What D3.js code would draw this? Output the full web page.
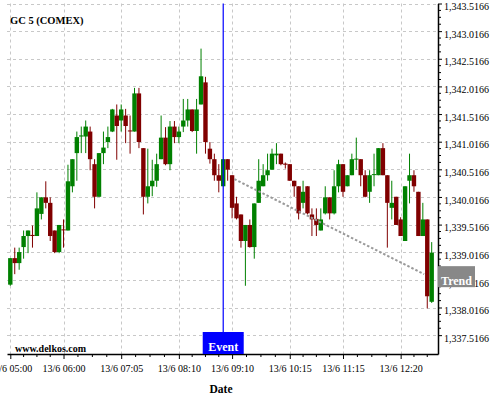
<!DOCTYPE html>
<html><head><meta charset="utf-8">
<script src="https://cdn.jsdelivr.net/npm/d3@7"></script>
<style>
html,body{margin:0;padding:0;background:#fff;}
text{font-family:"Liberation Serif","Times New Roman",serif;}
</style></head>
<body>
<script>
// ---- data ----
const title = "GC 5 (COMEX)";
const openV = [1338.43,1338.91,1338.82,1339.11,1339.31,1339.33,1339.31,1339.71,1340.01,1339.91,
1339.41,1339.02,1339.43,1339.41,1340.21,1340.81,1341.11,1341.11,1341.20,1340.61,
1340.02,1340.81,1341.01,1341.20,1341.49,1341.40,1341.49,1341.22,1341.20,1341.89,
1340.90,1340.02,1340.21,1340.31,1340.70,1341.09,1340.61,1341.29,1341.10,1341.29,
1341.40,1341.60,1341.21,1341.69,1342.09,1340.89,1340.70,1340.41,1340.21,1340.70,
1340.41,1339.90,1339.70,1339.22,1339.51,1339.11,1339.91,1340.21,1340.41,1340.51,
1340.77,1340.80,1340.62,1340.61,1340.31,1340.21,1339.91,1340.21,1339.70,1339.62,
1339.41,1339.72,1340.01,1339.72,1340.21,1340.61,1340.21,1340.41,1340.70,1340.70,
1340.41,1340.11,1340.42,1340.41,1340.90,1340.41,1339.82,1340.02,1339.61,1339.22,
1340.31,1340.41,1340.11,1339.31,1339.61,1338.12];
const highV = [1338.91,1339.10,1339.10,1339.41,1339.41,1339.50,1340.10,1340.01,1340.30,1340.01,
1339.41,1339.51,1339.61,1340.60,1340.70,1341.20,1341.29,1341.40,1341.29,1340.70,
1340.81,1341.20,1341.29,1341.61,1341.69,1341.69,1341.61,1341.49,1341.99,1341.99,
1340.90,1340.89,1340.69,1340.80,1341.49,1341.28,1341.39,1341.39,1341.29,1341.79,
1341.79,1341.60,1341.79,1342.70,1342.19,1341.01,1340.80,1340.61,1340.70,1340.70,
1340.41,1340.02,1339.70,1339.51,1339.61,1339.90,1340.70,1340.61,1340.80,1340.89,
1340.99,1340.80,1340.64,1340.61,1340.31,1340.21,1340.31,1340.21,1339.81,1339.81,
1339.81,1340.21,1340.01,1340.50,1340.69,1340.61,1340.41,1340.80,1341.09,1340.70,
1340.50,1340.50,1340.80,1340.90,1340.99,1340.41,1340.31,1340.02,1339.65,1340.21,
1340.80,1340.50,1340.11,1339.91,1339.61,1339.20];
const lowV = [1338.41,1338.62,1338.70,1338.90,1339.00,1339.10,1339.31,1339.61,1339.81,1339.22,
1339.00,1339.00,1339.10,1339.41,1340.10,1340.31,1340.81,1340.81,1340.50,1339.81,
1340.02,1340.61,1340.90,1341.19,1340.69,1341.20,1340.99,1340.80,1341.20,1340.90,
1339.70,1339.90,1340.03,1340.20,1340.70,1340.59,1340.50,1340.99,1340.99,1341.19,
1341.29,1341.19,1340.80,1341.69,1340.80,1340.62,1340.31,1340.10,1340.21,1340.31,
1339.63,1339.61,1339.10,1338.41,1339.10,1338.90,1339.91,1340.21,1340.31,1340.51,
1340.61,1340.59,1340.53,1340.31,1340.02,1339.61,1339.81,1339.70,1339.31,1339.31,
1339.41,1339.70,1339.61,1339.70,1340.10,1340.02,1340.21,1340.41,1340.51,1340.21,
1340.01,1339.91,1340.21,1340.41,1340.41,1339.10,1339.61,1339.51,1339.31,1339.22,
1339.90,1340.11,1339.31,1339.31,1338.00,1338.10];
const closeV = [1338.91,1338.82,1339.02,1339.31,1339.41,1339.31,1339.81,1340.01,1339.91,1339.31,
1339.02,1339.51,1339.42,1340.30,1340.70,1341.10,1341.13,1341.29,1340.70,1340.02,
1340.81,1340.91,1341.10,1341.60,1341.30,1341.60,1341.30,1341.21,1341.89,1341.01,
1340.02,1340.21,1340.31,1340.61,1341.09,1340.61,1341.29,1341.10,1341.20,1341.40,
1341.60,1341.21,1341.60,1342.20,1341.01,1340.70,1340.41,1340.31,1340.70,1340.51,
1339.82,1339.63,1339.22,1339.51,1339.11,1339.90,1340.31,1340.41,1340.50,1340.80,
1340.80,1340.61,1340.60,1340.31,1340.21,1339.72,1340.11,1339.72,1339.61,1339.51,
1339.61,1340.01,1339.72,1340.21,1340.61,1340.11,1340.41,1340.70,1340.71,1340.41,
1340.02,1340.41,1340.43,1340.90,1340.41,1339.91,1339.91,1339.51,1339.31,1340.21,
1340.41,1340.21,1339.31,1339.61,1338.22,1339.01];
const xTickIdx = [0,12,25,38,50,63,75,88];
const xTickLabels = ["13/6 05:00","13/6 06:00","13/6 07:05","13/6 08:10","13/6 09:10","13/6 10:15","13/6 11:15","13/6 12:20"];
const yTickValues = [1337.5166,1338.0166,1338.5166,1339.0166,1339.5166,1340.0166,1340.5166,1341.0166,1341.5166,1342.0166,1342.5166,1343.0166,1343.5166];
const eventIdx = 48;
const eventLabel = "Event";
const trendIdx = [50.5, 93.3];
const trendVal = [1340.34, 1338.62];
const trendLabel = "Trend";
const xTitle = "Date";
const watermark = "www.delkos.com";

// ---- layout ----
const W = 500, H = 400;
const L = 7, R = 438, T = 3.5, B = 354;
const svg = d3.select("body").append("svg").attr("width", W).attr("height", H);
const x = d3.scaleLinear().domain([-0.744, 96.42]).range([L, R]);
const y = d3.scaleLinear().domain([1337.1756, 1343.5166]).range([B, T]);
const green = "#008000", red = "#800000";

// grid
const grid = svg.append("g").attr("stroke", "#c8c8c8").attr("stroke-width", 1).attr("stroke-dasharray", "3,3");
grid.selectAll("line.h").data(yTickValues).join("line").attr("class","h")
  .attr("x1", L).attr("x2", R).attr("y1", d => Math.round(y(d)) + 0.5).attr("y2", d => Math.round(y(d)) + 0.5);
grid.selectAll("line.v").data(xTickIdx).join("line").attr("class","v")
  .attr("y1", T).attr("y2", B).attr("x1", d => Math.round(x(d)) + 0.5).attr("x2", d => Math.round(x(d)) + 0.5);

// candles
const idx = d3.range(openV.length);
const bw = 4.4;
const cg = svg.append("g");
cg.selectAll("line").data(idx).join("line")
  .attr("x1", i => x(i)).attr("x2", i => x(i))
  .attr("y1", i => y(Math.max(highV[i], openV[i], closeV[i])))
  .attr("y2", i => y(Math.min(lowV[i], openV[i], closeV[i])))
  .attr("stroke", i => closeV[i] >= openV[i] ? green : red).attr("stroke-width", 1);
cg.selectAll("rect").data(idx).join("rect")
  .attr("x", i => x(i) - bw / 2).attr("width", bw)
  .attr("y", i => y(Math.max(openV[i], closeV[i])))
  .attr("height", i => Math.max(1, Math.abs(y(openV[i]) - y(closeV[i]))))
  .attr("fill", i => closeV[i] >= openV[i] ? green : red);

// trend line
svg.append("line")
  .attr("x1", x(trendIdx[0])).attr("y1", y(trendVal[0]))
  .attr("x2", x(trendIdx[1])).attr("y2", y(trendVal[1]))
  .attr("stroke", "#999").attr("stroke-width", 2).attr("stroke-dasharray", "2.5,2");

// event line
const ex = x(eventIdx);
svg.append("line").attr("x1", ex).attr("x2", ex).attr("y1", T).attr("y2", 332)
  .attr("stroke", "#0000ff").attr("stroke-width", 1.2);

// axes
const yAxis = d3.axisRight(y).tickValues(yTickValues).tickFormat(d3.format(",.4f")).tickSize(4).tickPadding(2).tickSizeOuter(0);
const ya = svg.append("g").attr("transform", `translate(${R},0)`).call(yAxis);
ya.selectAll("text").attr("dy", "0.62em").attr("font-size", 10).attr("fill", "#000").attr("font-family", "Liberation Serif, serif");
ya.select(".domain").attr("stroke", "#000").attr("stroke-width", 1.5);
// minor y ticks
const yMinor = [];
for (let k = 0; k < yTickValues.length - 1; k++) for (let j = 1; j < 4; j++) yMinor.push(yTickValues[k] + (yTickValues[k+1]-yTickValues[k]) * j / 4);
ya.selectAll("line.mn").data(yMinor).join("line").attr("class","mn")
  .attr("x1", 0).attr("x2", 3).attr("y1", d => y(d)).attr("y2", d => y(d)).attr("stroke", "#000");

const xAxis = d3.axisBottom(x).tickValues(xTickIdx).tickFormat((d, i) => xTickLabels[i]).tickSize(5).tickPadding(6).tickSizeOuter(0);
const xa = svg.append("g").attr("transform", `translate(0,${B})`).call(xAxis);
xa.selectAll("text").attr("font-size", 10).attr("fill", "#000").attr("font-family", "Liberation Serif, serif");
xa.select(".domain").attr("stroke", "#000").attr("stroke-width", 1.5);
const xMinor = [];
for (let k = 0; k < xTickIdx.length - 1; k++) for (let j = 1; j < 4; j++) xMinor.push(xTickIdx[k] + (xTickIdx[k+1]-xTickIdx[k]) * j / 4);
xMinor.push(xTickIdx[xTickIdx.length-1] + 3, xTickIdx[xTickIdx.length-1] + 6);
xa.selectAll("line.mn").data(xMinor).join("line").attr("class","mn")
  .attr("y1", 0).attr("y2", 3).attr("x1", d => x(d)).attr("x2", d => x(d)).attr("stroke", "#000");

// event label
svg.append("rect").attr("x", ex - 20.5).attr("y", 332).attr("width", 41).attr("height", B - 332).attr("fill", "#0000ff");
svg.append("text").attr("x", ex).attr("y", 350.7).attr("text-anchor", "middle")
  .attr("font-size", 12).attr("font-weight", "bold").attr("fill", "#fff").text(eventLabel);

// trend label
const ty = y(trendVal[1]);
svg.append("rect").attr("x", R).attr("y", ty - 8).attr("width", 37).attr("height", 21).attr("fill", "#888");
svg.append("text").attr("x", R + 18.5).attr("y", ty + 10.5).attr("text-anchor", "middle")
  .attr("font-size", 12).attr("font-weight", "bold").attr("fill", "#fff").text(trendLabel);

// titles
svg.append("text").attr("x", 10).attr("y", 24).attr("font-size", 10.5).attr("font-weight", "bold").text(title);
svg.append("text").attr("x", 15).attr("y", 351.5).attr("font-size", 10).attr("font-weight", "bold").text(watermark);
svg.append("text").attr("x", 221).attr("y", 392.5).attr("text-anchor", "middle").attr("font-size", 11.5).attr("font-weight", "bold").text(xTitle);
</script>
</body></html>
